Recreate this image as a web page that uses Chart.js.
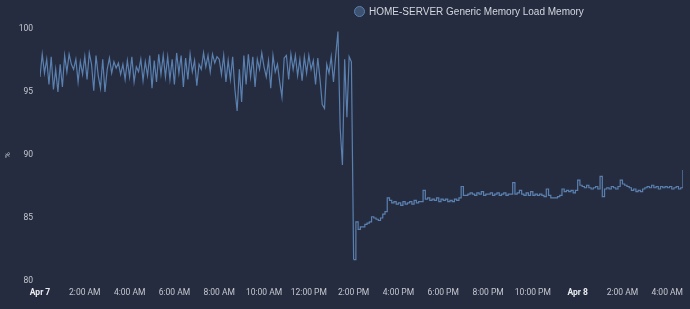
<!DOCTYPE html>
<html>
<head>
<meta charset="utf-8">
<script src="https://cdn.jsdelivr.net/npm/chart.js@4.4.1/dist/chart.umd.min.js"></script>
<style>
    html, body { margin: 0; padding: 0; background: #262c3f; }
    #wrap { position: relative; width: 690px; height: 309px; }
    #legend {
        position: absolute; top: 6px; left: 354px;
        display: flex; align-items: center;
        font: 10px "Liberation Sans", Arial, sans-serif; color: #d3d6de;
    }
    #legend .dot {
        width: 11px; height: 11px; border-radius: 50%; box-sizing: border-box;
        background: rgba(90, 128, 176, 0.45); border: 1px solid #5a80b0;
        margin-right: 4px;
    }
    canvas { display: block; }
</style>
</head>
<body>
<div id="wrap">
    <div id="legend"><span class="dot"></span><span id="legend-text"></span></div>
    <canvas id="chart" width="690" height="309"></canvas>
</div>
<script>
    'use strict';

    var seriesLabel = 'HOME-SERVER Generic Memory Load Memory',
        sampleMinutes = 6,
        // Apr 7 00:00 - 13:54, one row per hour
        memoryBeforeDrop = [
            96.2, 98.0, 96.5, 97.6, 95.6, 97.8, 95.2, 96.8, 95.0, 97.2,
            95.4, 97.9, 96.6, 98.0, 97.2, 96.8, 97.6, 95.8, 97.4, 96.4,
            97.8, 96.0, 98.1, 97.2, 95.1, 97.9, 96.3, 95.3, 97.6, 95.0,
            96.8, 97.7, 96.5, 97.4, 96.9, 97.3, 96.4, 97.2, 96.0, 97.5,
            96.2, 97.8, 95.8, 97.0, 96.6, 97.6, 95.9, 97.4, 96.3, 97.9,
            95.3, 97.5, 95.8, 98.0, 96.4, 97.9, 96.2, 97.8, 96.0, 97.6,
            95.6, 98.1, 96.5, 97.9, 95.4, 97.7, 96.0, 98.0, 96.6, 97.5,
            95.5, 97.2, 96.8, 98.1, 97.0, 97.9, 96.6, 98.0, 97.3, 97.8,
            97.6, 96.4, 97.9, 95.8, 97.5, 96.0, 97.8, 95.2, 93.5, 96.8,
            94.2, 97.9, 95.6, 98.0, 96.2, 97.8, 95.4, 97.6, 96.8, 98.1,
            97.0, 96.2, 97.5, 95.3, 97.9, 96.6, 97.2, 95.8, 94.6, 97.7,
            97.9, 96.0, 98.0, 96.8, 97.9, 96.3, 97.6, 95.9, 97.8, 96.5,
            97.9, 96.8, 97.5, 95.6, 97.7, 96.0, 94.0, 93.7, 97.2, 96.5,
            97.8, 95.8, 97.9, 99.8, 92.1, 89.2, 97.6, 93.0, 97.8, 97.4
        ],
        // Apr 7 14:00 - Apr 8 04:42
        memoryAfterDrop = [
            81.7, 84.7, 84.1, 84.3, 84.3, 84.5, 84.6, 84.7, 85.1, 85.0,
            84.9, 84.8, 85.0, 85.3, 85.5, 86.6, 86.4, 86.2, 86.3, 86.1,
            86.2, 86.0, 86.3, 86.1, 86.2, 86.3, 86.1, 86.4, 86.2, 86.3,
            86.3, 87.2, 86.5, 86.6, 86.4, 86.5, 86.4, 86.6, 86.3, 86.5,
            86.4, 86.5, 86.3, 86.4, 86.3, 86.5, 86.4, 86.6, 87.5, 86.8,
            86.8, 86.9, 87.0, 86.9, 86.8, 87.0, 86.9, 87.1, 86.8, 86.9,
            86.9, 87.0, 86.8, 86.9, 87.0, 86.8, 86.9, 87.0, 86.8, 86.9,
            86.9, 87.8, 86.9, 87.0, 87.2, 86.9, 86.8, 87.0, 86.8, 87.1,
            86.8, 86.9, 86.8, 86.9, 86.8, 86.7, 87.3, 86.8, 86.6, 86.6,
            86.6, 86.7, 86.8, 87.3, 87.1, 87.2, 87.1, 87.2, 87.0, 87.2,
            88.0, 87.6, 87.5, 87.4, 87.6, 87.4, 87.3, 87.4, 87.5, 87.3,
            88.3, 86.7, 87.3, 87.4, 87.3, 87.5, 87.4, 87.3, 87.5, 88.0,
            87.7, 87.6, 87.5, 87.4, 87.2, 87.3, 87.1, 87.2, 87.1, 87.3,
            87.4, 87.5, 87.4, 87.6, 87.4, 87.5, 87.3, 87.5, 87.4, 87.5,
            87.4, 87.5, 87.3, 87.4, 87.5, 87.3, 87.4, 88.8
        ],
        tickHours = [0, 2, 4, 6, 8, 10, 12, 14, 16, 18, 20, 22, 24, 26, 28],
        dayNames = ['Apr 7', 'Apr 8'],
        yTicks = [80, 85, 90, 95, 100];

    var toPoints = function (values, offset) {
            return values.map(function (value, index) {
                return { x: (index + offset) * sampleMinutes / 60, y: value };
            });
        },

        formatHour = function (value) {
            var hour = value % 24,
                h12 = hour % 12 || 12;

            if (hour === 0) {
                return dayNames[value / 24];
            }
            return h12 + ':00 ' + (hour < 12 ? 'AM' : 'PM');
        },

        isDayTick = function (context) {
            return context.tick && context.tick.value % 24 === 0;
        },

        lineStyle = function (data, stepped) {
            return {
                label: seriesLabel,
                data: data,
                borderColor: '#5a80b0',
                backgroundColor: 'rgba(90, 128, 176, 0.45)',
                borderWidth: 1.2,
                pointRadius: 0,
                stepped: stepped,
                fill: false
            };
        };

    var before = toPoints(memoryBeforeDrop, 0),
        after = toPoints(memoryAfterDrop, memoryBeforeDrop.length),
        lastX = after[after.length - 1].x;

    document.getElementById('legend-text').textContent = seriesLabel;

    new Chart(document.getElementById('chart').getContext('2d'), {
        type: 'line',
        data: {
            datasets: [
                lineStyle(before.concat([after[0]]), false),
                lineStyle(after, 'before')
            ]
        },
        options: {
            responsive: false,
            animation: false,
            layout: { padding: { top: 29, right: 0, bottom: 0, left: 3 } },
            plugins: {
                legend: { display: false },
                tooltip: { enabled: false }
            },
            scales: {
                x: {
                    type: 'linear',
                    min: 0,
                    max: lastX,
                    grid: { display: false, drawTicks: false },
                    border: { display: false },
                    afterBuildTicks: function (scale) {
                        scale.ticks = tickHours.map(function (h) { return { value: h }; });
                    },
                    afterFit: function (scale) { scale.height = 28; },
                    ticks: {
                        autoSkip: false,
                        maxRotation: 0,
                        padding: 7,
                        callback: formatHour,
                        color: function (context) {
                            return isDayTick(context) ? '#eceef2' : '#c5c8cf';
                        },
                        font: function (context) {
                            return {
                                family: 'Roboto',
                                size: 8.5,
                                weight: isDayTick(context) ? 'bold' : 'normal'
                            };
                        }
                    }
                },
                y: {
                    min: 80,
                    max: 100,
                    grid: { display: false, drawTicks: false },
                    border: { display: false },
                    afterBuildTicks: function (scale) {
                        scale.ticks = yTicks.map(function (v) { return { value: v }; });
                    },
                    afterFit: function (scale) { scale.width = 37; },
                    ticks: {
                        padding: 7,
                        color: '#c5c8cf',
                        font: { family: 'Roboto', size: 8.5 }
                    },
                    title: {
                        display: true,
                        text: '%',
                        color: '#c5c8cf',
                        padding: 0,
                        font: { family: 'Roboto', size: 8 }
                    }
                }
            }
        }
    });
</script>
</body>
</html>
